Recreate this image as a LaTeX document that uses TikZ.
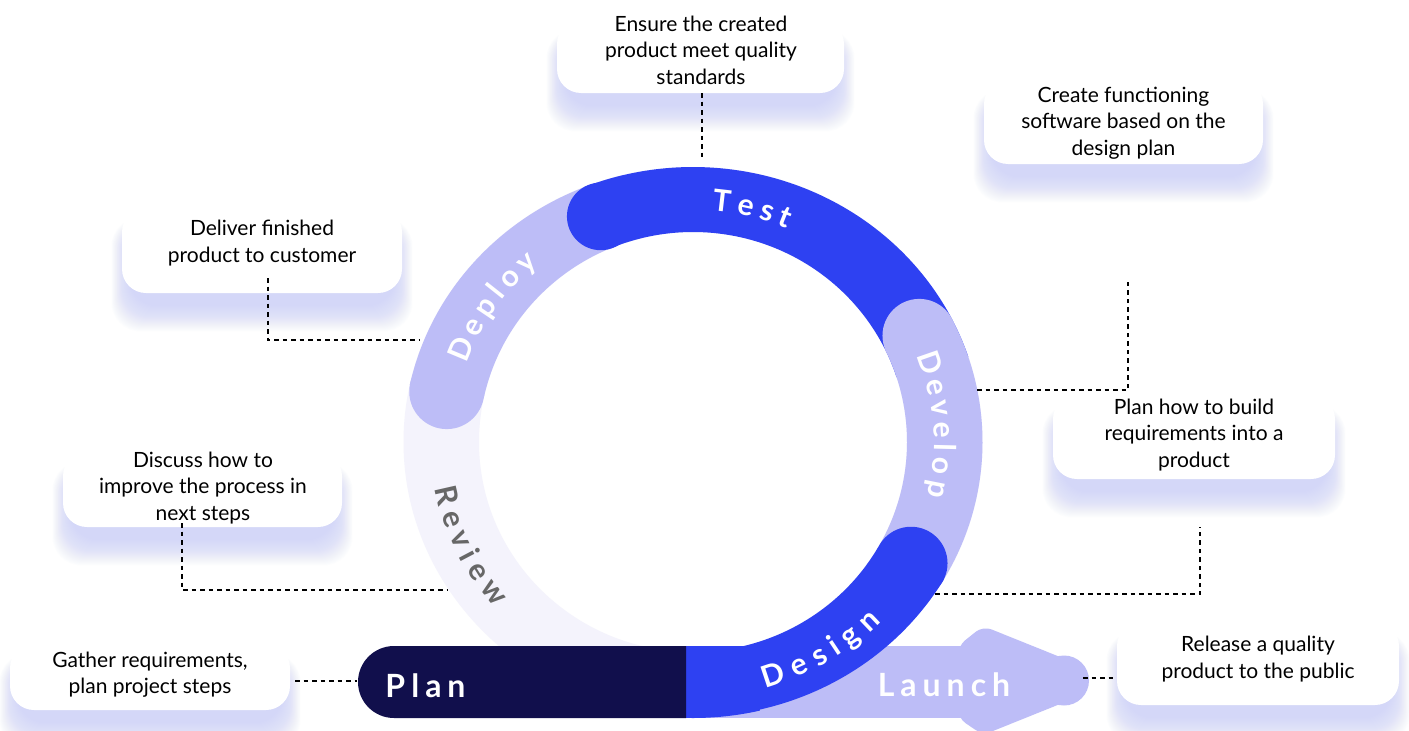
\documentclass[tikz,border=0pt]{standalone}
\usepackage{fontspec}
\setmainfont{Lato}
\usetikzlibrary{calc}
\pgfdeclarelayer{bg}
\pgfsetlayers{bg,main}
\definecolor{ringbg}{HTML}{F4F3FC}
\definecolor{lilac}{HTML}{BDBDF7}
\definecolor{royal}{HTML}{2E41F2}
\definecolor{navy}{HTML}{110F4C}
\definecolor{grayt}{HTML}{676767}
\definecolor{glowlav}{HTML}{C3C8F8}
\newcommand\ringband[3]{%
  \fill[#1] (#2:289.5pt and 275pt) arc[start angle=#2, end angle=#3, x radius=289.5pt, y radius=275pt]
    -- (#3:214pt and 210pt) arc[start angle=#3, end angle=#2, x radius=214pt, y radius=210pt] -- cycle;}
\newcommand\ringcap[3]{\fill[#1] (#2:251.75pt and 242.5pt) circle[radius=#3];}
\tikzset{
  panel/.style={fill=white, rounded corners=24pt, inner sep=0pt},
  paneltext/.style={align=center, font=\fontsize{21}{26.5}\selectfont, text=black, inner sep=0pt},
  conn/.style={line width=2.4pt, dash pattern=on 4.5pt off 4pt, black},
  ringletter/.style={font=\fontsize{30}{30}\selectfont\bfseries, text height=21.5pt, text depth=0pt, inner sep=0pt, text=white},
  barlabel/.style={font=\fontsize{32}{32}\selectfont\bfseries, text=white, inner sep=0pt, anchor=base},
}
\begin{document}
\begin{tikzpicture}[x=1pt,y=1pt]
\useasboundingbox (0,0) rectangle (1409,-731);
\begin{pgfonlayer}{bg}
\fill[white] (0,0) rectangle (1409,-731);
\end{pgfonlayer}

% description panels
\node[panel, minimum width=287pt, minimum height=73pt] (testbox) at (700.5,-56.5) {};
\node[panel, minimum width=279pt, minimum height=84pt] (devbox) at (1123.5,-122) {};
\node[panel, minimum width=280pt, minimum height=85pt] (depbox) at (262,-250.5) {};
\node[panel, minimum width=279pt, minimum height=75pt] (revbox) at (202.5,-489.5) {};
\node[panel, minimum width=282pt, minimum height=84pt] (desbox) at (1194,-437) {};
\node[panel, minimum width=280pt, minimum height=66pt] (planbox) at (150,-677) {};
\node[panel, minimum width=282pt, minimum height=83pt] (launchbox) at (1258,-663.5) {};

\begin{pgfonlayer}{bg}
\foreach \b in {testbox,devbox,depbox,revbox,desbox,planbox,launchbox}{
  \foreach \e in {1,...,26}{
    \fill[glowlav, fill opacity=0.034, rounded corners=28pt]
      ($(\b.south west)+(-0.7*\e+8,-12-\e)$) rectangle ($(\b.north east)+(0.7*\e-8,-18+0.3*\e)$);
  }
}
\end{pgfonlayer}

\node[paneltext] (testtext) at (701,-50) {Ensure the created\\product meet quality\\standards};
\node[paneltext] (devtext) at (1123.5,-123) {Create functioning\\software based on the\\design plan};
\node[paneltext] (deptext) at (262,-243) {Deliver finished\\product to customer};
\node[paneltext] (revtext) at (203,-488) {Discuss how to\\improve the process in\\next steps};
\node[paneltext] (destext) at (1194,-435) {Plan how to build\\requirements into a\\product};
\node[paneltext] (plantext) at (150,-674.5) {Gather requirements,\\plan project steps};
\node[paneltext] (launchtext) at (1258,-659) {Release a quality\\product to the public};

% ring
\begin{scope}[shift={(693,-442)}]
  \fill[ringbg, even odd rule] (0,0) ellipse[x radius=289.5pt, y radius=275pt]
                               (0,0) ellipse[x radius=214pt, y radius=210pt];
\end{scope}

% launch arrow
\fill[lilac] (686,-646) rectangle (972,-718);
\fill[lilac, rounded corners=9pt] (958,-646) -- (983,-626) -- (1070,-661) -- (1070,-700) -- (983,-735) -- (958,-718) -- cycle;
\fill[lilac] (1064,-680.5) circle[radius=25pt];

\begin{scope}[shift={(693,-442)}]
  \ringband{lilac}{168}{104}
  \ringcap{lilac}{168}{37.5pt}
  \ringband{royal}{111.5}{18}
  \ringcap{royal}{111.5}{33.8pt}
  \ringband{lilac}{26}{-36}
  \ringcap{lilac}{26}{36.8pt}
  \ringband{royal}{-30}{-90}
  \ringcap{royal}{-30}{36.5pt}
  \begin{scope}
    \clip (0,0) ellipse[x radius=289.5pt, y radius=276pt];
    \fill[royal] (-7,-204) rectangle (67,-280);
  \end{scope}
\end{scope}

% plan bar
\fill[navy] (686,-646) -- (394,-646) arc[start angle=90, end angle=270, radius=36pt] -- (686,-718) -- cycle;

% ring labels
\begin{scope}[shift={(693,-442)}]
  \foreach \c/\a in {T/83.4,e/77.8,s/72.7,t/68.3}
    \node[ringletter, rotate=\a-90] at (\a:251.75pt and 242.5pt) {\c};
  \foreach \c/\a in {D/157.4,e/151.4,p/146.0,l/141.6,o/137.2,y/131.9}
    \node[ringletter, rotate=\a-90] at (\a:251.75pt and 242.5pt) {\c};
  \foreach \c/\a in {D/19.15,e/13.2,v/8.0,e/2.9,l/-1.4,o/-5.8,p/-11.3}
    \node[ringletter, rotate=\a-90] at (\a:251.75pt and 242.5pt) {\c};
  \foreach \c/\a in {R/192.8,e/198.4,v/203.55,i/207.7,e/212.0,w/218.1}
    \node[ringletter, text=grayt, rotate=\a+90] at (\a:251.75pt and 242.5pt) {\c};
  \foreach \c/\a in {D/-71.6,e/-65.4,s/-60.3,i/-56.3,g/-52.0,n/-46.4}
    \node[ringletter, rotate=\a+90] at (\a:254pt and 245pt) {\c};
\end{scope}

\node[barlabel] (planlabel) at (425.5,-697) {P\kern6pt l\kern6pt a\kern6pt n};
\node[barlabel] (launchlabel) at (944,-696) {L\kern6pt a\kern6pt u\kern6pt n\kern6pt c\kern6pt h};

% connectors
\coordinate (testend) at (702,-157);
\draw[conn] (testbox.south -| testend) -- (testend);
\coordinate (depstart) at (268,-278);
\coordinate (depend) at (420,-340);
\draw[conn] (depstart) |- (depend);
\coordinate (revstart) at (182,-523);
\coordinate (revend) at (448,-590);
\draw[conn] (revstart) |- (revend);
\coordinate (planstart) at (295,-681);
\coordinate (planend) at (357,-681);
\draw[conn] (planstart) -- (planend);
\coordinate (launchstart) at (1083,-678);
\draw[conn] (launchstart) -- (launchbox.west |- launchstart);
\coordinate (desstart) at (935,-594);
\coordinate (desend) at (1200,-527);
\draw[conn] (desstart) -| (desend);
\coordinate (devstart) at (977,-390);
\coordinate (devend) at (1128,-278);
\draw[conn] (devstart) -| (devend);
\end{tikzpicture}
\end{document}
